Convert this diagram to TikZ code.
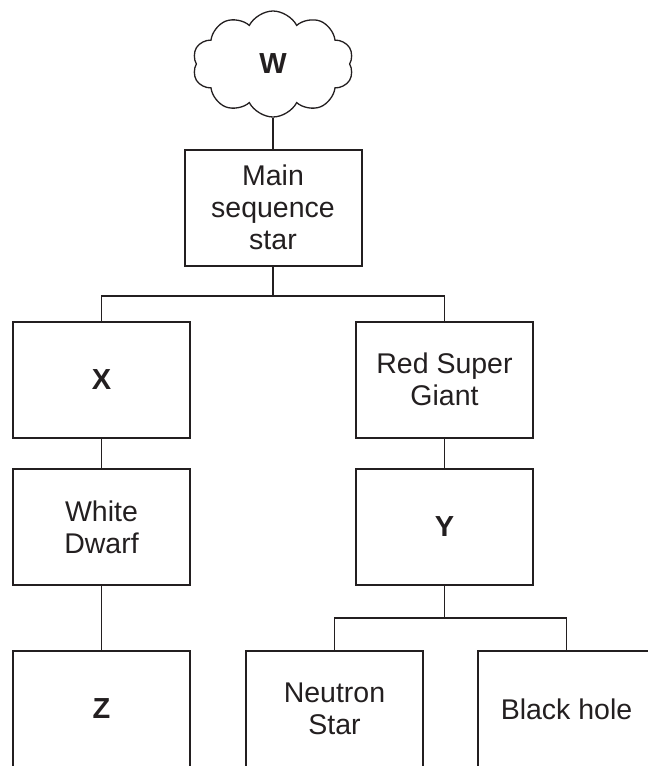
\documentclass[tikz,border=0pt]{standalone}
\usepackage{fontspec}
\setmainfont{Liberation Sans}
\usetikzlibrary{shapes.symbols}
\definecolor{ink}{HTML}{231F20}
\begin{document}
\begin{tikzpicture}[x=1pt,y=-1pt,
  box/.style={draw=ink, line width=2pt, minimum width=177pt, minimum height=116pt,
              align=center, inner sep=0pt, text=ink, font=\fontsize{28.5}{32}\selectfont},
  letter/.style={font=\fontsize{29}{32}\selectfont\bfseries},
  link/.style={draw=ink, line width=1.3pt}]
\useasboundingbox (0,0) rectangle (648,766);
\clip (0,0) rectangle (648,766);

% origin of the sequence
\node[cloud, draw=ink, line width=1.3pt, cloud puffs=10, cloud puff arc=125, aspect=1.5,
      minimum width=161pt, minimum height=106pt, inner sep=0pt, text=ink,
      letter] (w) at (273,64) {W};

% stages
\node[box] (main) at (273,207.5) {Main\\sequence\\star};
\node[box, letter] (x) at (101.5,379.5) {X};
\node[box] (rsg) at (444.5,379.5) {Red Super\\Giant};
\node[box] (wd) at (101.5,527) {White\\Dwarf};
\node[box, letter] (y) at (444.5,527) {Y};
\node[box, letter] (z) at (101.5,709) {Z};
\node[box] (ns) at (334.5,709) {Neutron\\Star};
\node[box] (bh) at (566.5,709) {Black hole};

% branching points
\coordinate (j1) at (273,296);
\coordinate (j2) at (444.5,618);

% connectors
\draw[link] (w) -- (main);
\draw[link] (main) -- (j1);
\draw[link] (x.north) |- (j1) -| (rsg.north);
\draw[link] (x) -- (wd);
\draw[link] (wd) -- (z);
\draw[link] (rsg) -- (y);
\draw[link] (y) -- (j2);
\draw[link] (ns.north) |- (j2) -| (bh.north);
\end{tikzpicture}
\end{document}
